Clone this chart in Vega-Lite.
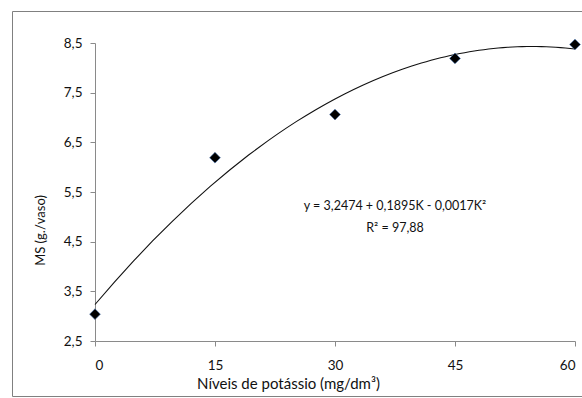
{
  "$schema": "https://vega.github.io/schema/vega-lite/v6.json",
  "width": 570,
  "height": 385,
  "autosize": {"type": "none"},
  "padding": {"left": 12, "top": 11, "right": 0, "bottom": 2},
  "background": "white",
  "config": {
    "view": {"stroke": "#808080", "strokeWidth": 1},
    "font": "Lato",
    "axis": {"grid": false, "domainColor": "#8a8a8a", "tickColor": "#8a8a8a", "tickSize": 5, "labelColor": "#111111", "titleColor": "#111111", "titleFontWeight": "normal"}
  },
  "datasets": {
    "points": [
      {"K": 0, "MS": 3.04},
      {"K": 15, "MS": 6.19},
      {"K": 30, "MS": 7.06},
      {"K": 45, "MS": 8.19},
      {"K": 60, "MS": 8.47}
    ],
    "notes": [
      {"K": 37.5, "MS": 5.22, "label": "y = 3,2474 + 0,1895K - 0,0017K²"},
      {"K": 37.5, "MS": 4.78, "label": "R² = 97,88"}
    ]
  },
  "encoding": {
    "x": {
      "field": "K", "type": "quantitative",
      "scale": {"domain": [0, 60], "range": [83, 563], "nice": false, "zero": false},
      "axis": {
        "values": [0, 15, 30, 45, 60],
        "offset": -55,
        "labelPadding": 12,
        "labelFontSize": 13.5,
        "title": "Níveis de potássio (mg/dm³)",
        "titleFontSize": 15,
        "titleX": 276,
        "titleY": 42,
        "titleBaseline": "middle",
        "titleAlign": "center"
      }
    },
    "y": {
      "field": "MS", "type": "quantitative",
      "scale": {"domain": [2.5, 8.5], "range": [330, 32], "nice": false, "zero": false},
      "axis": {
        "values": [2.5, 3.5, 4.5, 5.5, 6.5, 7.5, 8.5],
        "labelExpr": "replace(format(datum.value, '.1f'), '.', ',')",
        "offset": -83,
        "labelPadding": 8,
        "labelFontSize": 13.5,
        "title": "MS (g./vaso)",
        "titleFontSize": 13,
        "titleX": -55,
        "titleY": 219,
        "titleBaseline": "middle",
        "titleAlign": "center",
        "titleAngle": -90
      }
    }
  },
  "layer": [
    {
      "data": {"name": "points"},
      "transform": [
        {"regression": "MS", "on": "K", "method": "poly", "order": 2, "extent": [0, 60]}
      ],
      "mark": {"type": "line", "color": "#111111", "strokeWidth": 1.1}
    },
    {
      "data": {"name": "points"},
      "mark": {"type": "point", "shape": "diamond", "filled": true, "color": "#000000", "size": 115, "opacity": 1, "stroke": "#3d6aa8", "strokeWidth": 0.6}
    },
    {
      "data": {"name": "notes"},
      "mark": {"type": "text", "align": "center", "baseline": "middle", "fontSize": 12.5, "color": "#111111", "font": "Lato"},
      "encoding": {"text": {"field": "label"}}
    }
  ]
}
